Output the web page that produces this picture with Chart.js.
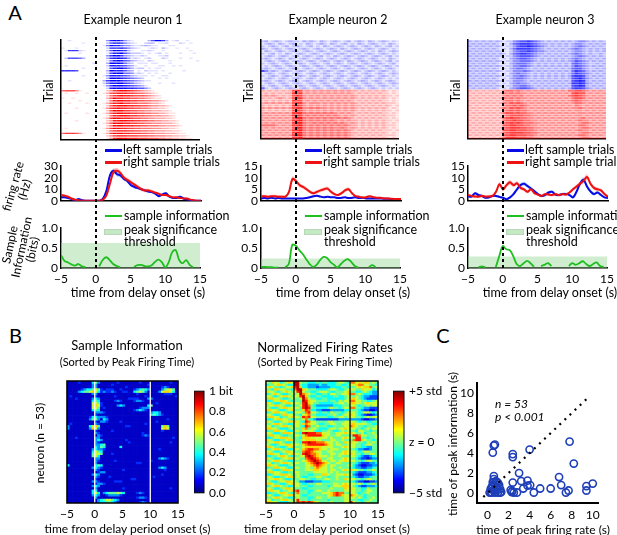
<!DOCTYPE html>
<html>
<head>
<meta charset="utf-8">
<script src="https://cdn.jsdelivr.net/npm/chart.js@4.4.1/dist/chart.umd.min.js"></script>
<style>
  body { margin: 0; background: #fff; }
  #fig { position: relative; width: 617px; height: 535px; overflow: hidden; font-family: Lato, "DejaVu Sans", sans-serif; color: #000; }
  .box { position: absolute; }
  .t { position: absolute; white-space: pre; font-size: 12px; line-height: 12px; text-align: center; }
  .sw { position: absolute; }
</style>
</head>
<body>
<div id="fig"></div>
<script>
// ---- data ----
const timeAxis = [-5,-4.5,-4,-3.5,-3,-2.5,-2,-1.5,-1,-0.5,0,0.5,1,1.5,2,2.5,3,3.5,4,4.5,5,5.5,6,6.5,7,7.5,8,8.5,9,9.5,10,10.5,11,11.5,12,12.5,13,13.5,14,14.5,15];
const timeTicks = [-5, 0, 5, 10, 15];
const frTicks1 = [0, 10, 20, 30];
const frTicks23 = [0, 5, 10, 15];
const infoTicks = [0, 0.5, 1];

// firing rates (Hz), left / right sample trials, with shaded error
const n1Left  = [3,3,2.5,1.5,0.5,1.5,0.5,0,0,0, 0,0,2,9,22,26,23,22,19,17, 13.5,12,11,10,9,8,7.5,6,4,5.5, 6.5,3.5,2.5,2.5,3.5,2,1,0.5,0,0, 0];
const n1Right = [5,4.5,3.5,2,1,0.5,0,0,0,0, 0,0,1,5,15,25,26,24,20,18, 16,14,12,10,9,9,8,7,6,5, 5,4,3,3,2.5,2,2,1,0.5,0, 0];
const n1SemL  = [1,1,1,0.8,0.6,0.6,0.5,0.3,0.3,0.3, 0.3,0.3,0.8,1.5,2,2,2,2,1.8,1.6, 1.5,1.4,1.3,1.2,1.2,1.2,1.1,1,1,1, 1,0.9,0.8,0.8,0.8,0.7,0.6,0.5,0.3,0.3, 0.3];
const n1SemR  = [1.2,1.2,1.1,0.9,0.7,0.5,0.4,0.3,0.3,0.3, 0.3,0.3,0.6,1.5,2.2,2.4,2.4,2.2,2,1.9, 1.8,1.7,1.6,1.5,1.5,1.4,1.4,1.3,1.2,1.1, 1.1,1,0.9,0.9,0.8,0.7,0.7,0.5,0.4,0.3, 0.3];

const n2Left  = [1,1.2,1,1.3,1,1.2,1,1,1,1, 1,1,1,1.2,1.5,2,2.2,1.8,1.5,1.8, 1.5,1.5,1.2,1.3,1.5,1.2,1.3,1.5,1.2,1.3, 1,1,1,1,1,0.9,0.9,0.8,0.8,0.8, 0.8];
const n2Right = [2,2,1.8,2,2,1.8,1.8,1.8,3.9,9.5, 8.6,6.8,6,5,3.9,3.3,3.9,4.5,5,5.3, 3.9,2.9,2.5,3.3,4.5,5,3.3,2,1.8,1.4, 1.5,2,1.6,1.3,1.3,1.1,1,0.9,0.8,0.8, 0.8];
const n2SemL  = [0.3,0.3,0.3,0.3,0.3,0.3,0.3,0.3,0.3,0.3, 0.3,0.3,0.3,0.3,0.4,0.4,0.4,0.4,0.3,0.3, 0.3,0.3,0.3,0.3,0.3,0.3,0.3,0.3,0.3,0.3, 0.3,0.3,0.3,0.3,0.3,0.3,0.3,0.3,0.3,0.3, 0.3];
const n2SemR  = [0.6,0.6,0.6,0.6,0.6,0.6,0.6,0.6,0.8,1.1, 1,0.9,0.8,0.8,0.7,0.7,0.7,0.8,0.8,0.8, 0.7,0.6,0.6,0.7,0.8,0.8,0.7,0.6,0.5,0.5, 0.5,0.5,0.5,0.4,0.4,0.4,0.4,0.4,0.4,0.4, 0.4];

const n3Left  = [2,1.8,3.3,2.5,2.1,1.3,1.5,2.1,2.1,1.7, 1.3,0.7,1.5,2.9,5,6.8,7.4,6.4,5.3,4.1, 2.9,2.1,2.5,3.6,3.9,2.7,2.5,2.9,2.9,2.5, 1.5,3.9,7.4,9.1,6.2,4.1,2.9,3.6,2.5,1.5, 1.2];
const n3Right = [2.5,2.1,1.9,1.8,2.1,1.8,1.9,2.1,3.9,7.2, 5,6.8,8,6.8,7.6,5.6,5,3.9,5,3.3, 2.7,2.1,2.9,2.7,2.5,2.9,2.5,2.9,2.7,3.6, 5,6.2,7.4,8.6,10.3,7.4,5.6,5,4.5,2.9, 1.8];
const n3SemL  = [0.6,0.6,0.6,0.6,0.6,0.5,0.5,0.5,0.5,0.5, 0.5,0.5,0.6,0.7,0.8,0.9,0.9,0.9,0.8,0.7, 0.6,0.6,0.6,0.6,0.6,0.6,0.6,0.6,0.6,0.6, 0.6,0.8,1,1.1,1,0.8,0.7,0.7,0.6,0.5, 0.5];
const n3SemR  = [0.6,0.6,0.6,0.6,0.6,0.6,0.6,0.6,0.8,1, 0.9,0.9,1,0.9,0.9,0.8,0.8,0.7,0.8,0.7, 0.6,0.6,0.6,0.6,0.6,0.6,0.6,0.6,0.6,0.7, 0.8,0.9,1,1.1,1.2,1,0.9,0.8,0.8,0.7, 0.6];

// sample information (bits), gaps where the curve is missing
const n1Info = [0.32,0.18,0.14,0.09,0.06,0.1,0.04,0.02,null,null, null,0.04,0.2,0.27,0.2,0.1,0.05,0.02,null,null, null,0.03,0.07,0.08,0.05,0.04,0.06,0.15,0.21,0.15, 0.02,0.15,0.4,0.45,0.2,0.12,0.2,0.08,0.02,null, null];
const n2Info = [0.03,0.03,0.02,0.02,0.01,0.01,null,0.02,0.1,0.58, 0.56,0.45,0.35,0.22,0.1,0.03,0.08,0.2,0.28,0.25, 0.15,0.08,0.02,0.1,0.18,0.22,0.15,0.05,0.01,null, null,0.02,0.07,0.02,null,null,null,null,null,null, null];
const n3Info = [null,null,null,0.02,0.04,0.02,null,null,0.02,0.3, 0.55,0.47,0.45,0.3,0.1,0.05,0.12,0.18,0.12,0.03, null,0.05,0.08,0.12,0.05,null,null,null,null,0.05, 0.12,0.08,0.12,0.17,0.1,0.05,0.1,0.14,0.05,0.03, null];
const thresholds = [0.63, 0.24, 0.29];

// spike rasters: one string per trial row, one digit (0-9 density) per 0.5 s bin
const n1RasterLeft = [
  "0010000000000489974210000369973012001000",
  "0000001000000379985321002330112000210100",
  "0000000000001598864421123211000110000000",
  "1000100000000288897532100121031001001000",
  "0177721000000269987310011210010000000100",
  "0000010000000158896422210101201000100010",
  "0000000000000479974321121000112000000000",
  "0266653000000378987412101200021000100100",
  "0000000000000158986532110210000100000001",
  "0000000001000399985320111011000100000000",
  "0100000000000288876431001000110010100000",
  "0000001000000168997531220101100000000000",
  "7777600000000398886430102111010000010000",
  "0000000000000279995541210101000100000000",
  "0000001000001488876532111010011000000000",
  "0000000000000399987654320000101000000000",
  "0010000000003799987654321100000000000000",
  "0000000000002588997653210000100010000000",
  "0000000000001479998765431000000000000000",
  "0000000000000289999887664200000000000000"];
const n1RasterRight = [
  "5666410000000247899876543210000000000000",
  "0100100100001367888776554321000000000000",
  "0000000000000257898876665432100000000000",
  "1001000000000369887766554321100000000000",
  "0000010000000158998877665544321000000000",
  "0010000100001368897766555433210000000000",
  "0000000000000268999887766544332100000000",
  "0000100000001478988776655433221000000000",
  "0000000000000269997766554433322100000000",
  "0100000100001368998877665544332110000000",
  "0000000000000158899877665544433210000000",
  "0000000000001379988876655443332210000000",
  "0000100000000248899887766554433221000000",
  "0000000000001369998877665544433321000000",
  "0000000000000259998887766555443332100000",
  "0100000000001479988776655544433221000000",
  "0000000000000268999887766554443322100000",
  "5777641000001379998877766554443332110000",
  "0000000000000258999888777665554433221000",
  "0000000000000148999888777666554433221100"];
const n2RasterLeft = [
  "2312321232213232132123212312321321232121",
  "1232132123121321232132123121321232121321",
  "2123212312321231213212321232123213212312",
  "3212321232123212321232132123212321232121",
  "1321232123212321232123212321232121321232",
  "2123121321232123212321232123212321232121",
  "1232123212312321231213212321232123212312",
  "2321232132123212321232123212321232121321",
  "1232123212321232123212321321232123212312",
  "2123212321232123212312321232123212321231",
  "1212321232123212321232123212321232123212",
  "2321232123212321232123212321232123212321",
  "6423212321232123212321232123212321232121",
  "1232123212321232123212321232123212321232",
  "2123212321232123212321232123212321232121",
  "1232123212321232123212321232123212321212",
  "2321232123212321232123212321232123212321",
  "1232123212321232123212321232123212321232",
  "2123212321232123212321232123212321232121",
  "5212321232123212321232123212321232121212"];
const n2RasterRight = [
  "3232323236763434343434343433232323232121",
  "2323232337673434343434343432323232322121",
  "3434323236764343434343434343232323232212",
  "3232343236774343434343434343232323232121",
  "2323232327663434343434343432323232322121",
  "3434343436774344434343434343232323232221",
  "3232323237764343434343434343323232323212",
  "4343434346774454544343434343232323232121",
  "3232323236764343434343434343232323232212",
  "3434343437775454545454343432323232322121",
  "4343434347774545454545434343232323232221",
  "3434343436885454545454545432323232322121",
  "4343434347785454545454343433232323232212",
  "3434343437885445454545454343232323232121",
  "5555434347785454545454545433232323232221",
  "3434343436885454545454454343232323232121",
  "4343434347785454545454545432323232322212",
  "3434343437885454545454545433232323232121",
  "4343434347885454545454545432323232322221",
  "3434343437785454545454545433232323232121"];
const n3RasterLeft = [
  "3232323232122456676543232323232344323232",
  "2323232321213567776543323232323443232323",
  "3232323232122467787654323232323454323232",
  "2323232321213577776543232323234543232323",
  "3232323232112456676544323232323443232323",
  "2323232323213567765433232323234543232232",
  "3232323232122456665432323232323454323232",
  "2323232321213456654323232323234543232323",
  "3232323232122445554323232323234654323232",
  "2323232321213455543232323232325654322323",
  "3232323232122445543232323232324654323232",
  "2323232321213455432323232323235664322323",
  "3232323232122444543232323232325765323232",
  "2323232321213454432323232323235765432323",
  "3232323232122445432323232323236776323232",
  "2323232321213455432323232323236786432323",
  "3232323232122444323232323232326787323232",
  "2323232321213454432323232323237787432323",
  "3232323232122445543232323232326787323232",
  "2323232321213456654323232323236776432323"];
const n3RasterRight = [
  "3232323232455454343434343434355665434343",
  "2323232323545454434343434343436766343434",
  "3232323232454545343434343434356765434343",
  "2323232323545454434343434343435665343434",
  "3232323232455454343434343434345654434343",
  "2323232323546565434343434343434554343434",
  "3232323232455656543434343434343543434343",
  "2323232323546565434343434343434454343434",
  "3232323232456565543434343434343443434343",
  "2323232323566565544343434343434344343434",
  "3232323232456666554434343434343443434343",
  "2323232323567665544343434343434345343434",
  "3232323232566766554434343434343454434343",
  "2323232323567676555443434343434345543434",
  "3232323232667766554434343434343455434343",
  "2323232323567776655443434343434345543434",
  "3232323232667766655434343434343454434343",
  "2323232323567777665543434343434345543434",
  "3232323232667766655434343434343455434343",
  "2323232323577766655443434343434345543434"];

// B: sample information per neuron (digit = tenths of a bit), 53 neurons x 0.5 s bins
const infoMap = [
  "1111211114531111112111111121111111111211",
  "1111111113311111211111111111121111111111",
  "1111111113311111111112111111111111232111",
  "1111123445652122211211112345431111356651",
  "1111345567642322321122114565311113677641",
  "1111111113311111111111111211111111122211",
  "1211111111211111121111111111211111111112",
  "1112111113431111111111222211133111111111",
  "1111111114541111123211112332111111111111",
  "1111111116652111111111111111111121111111",
  "1111111116762111113431111111145111111111",
  "1111111116651211111111111123331111111111",
  "1111111114541111111111112343211111111111",
  "1111111111333211111111111111113443111111",
  "1111111111211111111111111111114543211111",
  "1111111124433321111111111111111111111111",
  "1111111135531431111111111111111111112111",
  "1111111111213321111211111111111121111111",
  "1211111111321111111111111111211111111111",
  "3111111146751111111112211111111111575111",
  "3111111137631111111111111111111111676111",
  "1111111111211111211111111111111111211111",
  "1111111111321111111111111112111111111111",
  "1111111111132111111111111112321111111111",
  "1112111111331111111111111111111111111121",
  "1111111111343111111112111111111111111111",
  "1111111111321111111111211111111111111211",
  "1111111111334511111111111111111111111111",
  "1111111111435411111411111111111111111111",
  "1111111113433211111111111111111112111111",
  "1111111114654111111111111111111111111111",
  "1111111115665111211111111111111111111111",
  "1111111115641111111111111111111111111111",
  "1111111111331111111111111111111113432111",
  "1111111111321111121111111111112111111111",
  "1111111111311111111111111221111111111111",
  "4111111111454111111111111111111111111111",
  "1111111113432111111111111111111113431111",
  "1111111111321111111121111111111111121111",
  "1111111111123311111111111111111111111111",
  "1111111113431111111111111111111111211111",
  "1111111111321112111111111111111211111111",
  "1111111111211111111111122111111111111111",
  "1111111113321111122211111111111111111111",
  "1111111111233211111111111111111111111111",
  "1111111113431111111111111111111111111111",
  "1111111111311111111121111111111111111211",
  "1111111114411111111111111111111111111111",
  "1111111114641345556541111232111111111111",
  "1111111113431123333211111111111111111111",
  "1111111111311111111111111233211111111111",
  "1111111111134566543111111111111111111111",
  "1111111111134455432111111123211111111111"];

// B: normalized firing rate per neuron (digit 0-9 spans -5..+5 std)
const rateMap = [
  "5465534565995443334344333455437756566454",
  "3445665433994332222322333443345567755443",
  "5654434556896332221222233334434456566745",
  "4436655443799654443333455433455544655534",
  "6554345654589544334555433444564433454322",
  "3456543345459765443344355445567745433322",
  "5543456654558964334433334433454454322111",
  "4665543345445975443344333333456654321111",
  "3345566543444986554444344354557755443345",
  "6543345665554896544333334455456655456555",
  "4556654334445897432222223334445543445455",
  "5433456655554898443333454434557744322111",
  "6655433456444687332211122222334443211001",
  "3456655433555478554344354443455543455434",
  "5543346655443567443333445434556543210012",
  "4665534456554878554444334455455544345455",
  "3345665543444574321111111122222222100112",
  "6543345566654387554444554444555543443344",
  "4456654433554676554334455445556655554433",
  "5534456654554387445444334444557654434445",
  "6655433345444674554333455455655544345455",
  "3446655433554555543344543345454435544344",
  "5543346665443898887755544555656544534454",
  "4665543344554578888865544554444887554445",
  "3345566654443666555555454445655488443445",
  "6543344566444566665544455445444788654434",
  "4556654334443889887776554544656554435454",
  "5433455665554678888887654554455544345544",
  "6654433456444566666655554445655544332244",
  "3456654433554678877655455544454432211244",
  "5543345665444788765544554445655543455444",
  "4665534456554898776544455455656544344554",
  "3344566543445589876555454454445543211234",
  "6543345566554478987644554445654432110122",
  "4456654433444567898755455455655544345544",
  "5534456654554456789876544554444432111223",
  "6655433345444455678765455444455321001122",
  "3446655433554455467655454454444322112234",
  "5543346665444455566555455445656554434454",
  "4665543344554444455555454544444321112234",
  "3345566654454443344466544555655210011123",
  "6543344566454334445544344544444321122344",
  "4556654334445544334445544544655544345544",
  "5433455665542211122233344444444321100112",
  "6654433456554334445544445545655545434454",
  "3456654433554443344444345556665432112223",
  "5543345665444334444444454444656544335444",
  "4665534456784443345544544444555544345544",
  "3344566543474443444455567877445543445444",
  "6543345566554334444444567876557654434444",
  "4456654433454443345544544444555545434454",
  "5534456654584443444444344444554443344544",
  "6655433345487878765444454444558544345444"];

// C: time of peak firing rate vs time of peak information (s), 53 neurons
const peakRateTime = [0.5,0.6,0.7,2.4,2.4,4.0,7.8,8.2,3.0,0.6, 0.6,0.9,2.4,3.2,3.8,4.05,3.4,5.0,6.0,6.8, 7.0,7.45,7.7,9.4,9.4,10.0,4.4,2.2,2.3,2.5, 2.8,3.8,0.2,0.3,0.4,0.5,0.6,0.7,0.8,0.9, 1.0,1.1,1.2,0.5,0.8,1.0,0.3,1.2,0.7,0.4, 2.35,1.3,0.9];
const peakInfoTime = [4.05,4.75,4.85,3.9,3.6,4.35,5.15,2.95,2.0,1.7, 1.4,1.1,1.05,1.2,1.25,0.8,0.45,0.45,0.45,1.6, 0.8,0.05,0.25,0.7,0.25,0.95,0.05,0.3,0.1,0.05, 0.05,0.75,0.05,0.4,0.05,0.8,0.3,0.05,0.6,0.3, 0.05,0.8,0.05,1.1,1.2,1.0,0.1,0.4,1.0,0.6, 0.2,0.1,0.5];
const unityLine = [-0.4, 9.5];
const scatterTicks = [0, 2, 4, 6, 8, 10];
const infoBarTicks = [0, 0.2, 0.4, 0.6, 0.8, 1];
const rateBarTicks = [-5, 0, 5];

// ---- drawing ----
Chart.defaults.font.family = 'Lato, "DejaVu Sans", sans-serif';
Chart.defaults.font.size = 12;
Chart.defaults.color = '#000';

const fig = document.getElementById('fig');
const colLeft = [61, 261, 468];
const PW = 140;
const rasterLineWidth = [1.4, 2.1, 2.1];

function jet(t) {
  t = Math.max(0, Math.min(1, t));
  const c = v => Math.round(255 * Math.max(0, Math.min(1, 1.5 - Math.abs(4 * t - v))));
  return `rgb(${c(3)},${c(2)},${c(1)})`;
}

const framePlugin = {
  id: 'frame',
  afterDatasetsDraw(chart, args, opts) {
    if (!opts.on) return;
    const a = chart.chartArea, c = chart.ctx;
    c.save();
    c.strokeStyle = '#000';
    c.lineWidth = opts.width || 1;
    c.strokeRect(a.left, a.top, a.right - a.left, a.bottom - a.top);
    c.restore();
  }
};

function mk(rect, pad, yRight, config) {
  const w = rect.w + pad.l + pad.r, h = rect.h + pad.t + pad.b;
  const div = document.createElement('div');
  div.className = 'box';
  div.style.cssText = `left:${rect.x - pad.l}px;top:${rect.y - pad.t}px;width:${w}px;height:${h}px`;
  const cv = document.createElement('canvas');
  cv.width = w; cv.height = h;
  div.appendChild(cv);
  fig.appendChild(div);
  const o = config.options;
  o.responsive = false;
  o.animation = false;
  o.events = [];
  o.layout = { padding: { top: pad.t, bottom: 0, left: yRight ? pad.l : 0, right: yRight ? 0 : pad.r } };
  o.plugins = Object.assign({ legend: { display: false }, tooltip: { enabled: false }, frame: { on: false } }, o.plugins || {});
  o.scales.x.afterFit = s => { s.height = pad.b; };
  o.scales.y.afterFit = s => { s.width = yRight ? pad.r : pad.l; };
  config.plugins = [framePlugin];
  return new Chart(cv, config);
}

function axis(min, max, extra) {
  return Object.assign({
    type: 'linear', min, max,
    grid: { display: false, drawTicks: false },
    border: { display: false },
    ticks: { display: false }
  }, extra || {});
}
const blackBorder = w => ({ display: true, color: '#000', width: w });
const fixedTicks = arr => s => { s.ticks = arr.map(v => ({ value: v })); };
const shownTicks = (extra) => Object.assign({ display: true, autoSkip: false, maxRotation: 0 }, extra);
const minus = v => (v < 0 ? '\u2212' + Math.abs(v) : String(v));
const pts = (xs, ys) => xs.map((x, i) => ({ x, y: ys[i] }));
const binCenter = k => (timeAxis[k] + timeAxis[k + 1]) / 2;

function txt(s, x, y, css, anchor, rot) {
  const d = document.createElement('div');
  d.className = 't';
  d.textContent = s;
  d.style.left = x + 'px';
  d.style.top = y + 'px';
  if (css) d.style.cssText += css;
  const tx = anchor === 'l' ? '0' : '-50%';
  d.style.transform = `translate(${tx},-50%)` + (rot ? ` rotate(${rot}deg)` : '');
  if (anchor === 'l') d.style.textAlign = 'left';
  fig.appendChild(d);
}
function swatch(x, y, w, h, css) {
  const d = document.createElement('div');
  d.className = 'sw';
  d.style.cssText = `left:${x}px;top:${y}px;width:${w}px;height:${h}px;` + css;
  fig.appendChild(d);
}

// ----- panel A -----
const rasters = [[n1RasterLeft, n1RasterRight], [n2RasterLeft, n2RasterRight], [n3RasterLeft, n3RasterRight]];
const rates = [[n1Left, n1Right, n1SemL, n1SemR], [n2Left, n2Right, n2SemL, n2SemR], [n3Left, n3Right, n3SemL, n3SemR]];
const infos = [n1Info, n2Info, n3Info];

function rasterSet(rows, offset, rgb, lw) {
  const data = [], colors = [];
  rows.forEach((row, r) => {
    for (let k = 0; k < Math.min(40, row.length); k++) {
      const d = +row[k];
      if (!d) continue;
      data.push({ x: binCenter(k), y: offset + r + 0.5 });
      colors.push(`rgba(${rgb},${(d / 9).toFixed(2)})`);
    }
  });
  return {
    data, pointStyle: 'line', pointRadius: 1.8, pointBorderWidth: lw,
    pointBorderColor: colors, pointBackgroundColor: colors
  };
}

rasters.forEach((pair, i) => {
  const L = colLeft[i];
  mk({ x: L, y: 36, w: PW, h: 105 }, { t: 2, r: 4, b: 4, l: 6 }, false, {
    type: 'scatter',
    data: { datasets: [rasterSet(pair[0], 0, '0,0,255', rasterLineWidth[i]), rasterSet(pair[1], pair[0].length, '255,0,0', rasterLineWidth[i])] },
    options: {
      scales: {
        x: axis(-5, 15, { border: blackBorder(1.5) }),
        y: axis(0, pair[0].length + pair[1].length, { reverse: true, border: blackBorder(1.5) })
      }
    }
  });
});

function bandPair(mean, sem, color, order) {
  return [
    { data: pts(timeAxis, mean.map((v, k) => v + sem[k])), fill: '+1', backgroundColor: color, borderWidth: 0, pointRadius: 0, tension: 0.35, order },
    { data: pts(timeAxis, mean.map((v, k) => Math.max(0, v - sem[k]))), fill: false, borderWidth: 0, pointRadius: 0, tension: 0.35, order }
  ];
}

rates.forEach((r, i) => {
  const L = colLeft[i];
  const ticks = i === 0 ? frTicks1 : frTicks23;
  mk({ x: L, y: 164, w: PW, h: 43.5 }, { t: 8, r: 4, b: 4, l: 26 }, false, {
    type: 'line',
    data: {
      datasets: [
        ...bandPair(r[0], r[2], 'rgba(95,160,255,0.45)', 5),
        ...bandPair(r[1], r[3], 'rgba(255,105,105,0.42)', 4),
        { data: pts(timeAxis, r[0]), borderColor: '#0a0ae6', borderWidth: 2, pointRadius: 0, tension: 0.35, fill: false, order: 2 },
        { data: pts(timeAxis, r[1]), borderColor: '#ee1111', borderWidth: 2, pointRadius: 0, tension: 0.35, fill: false, order: 1 }
      ]
    },
    options: {
      scales: {
        x: axis(-5, 15, { border: blackBorder(1.5) }),
        y: axis(0, ticks[ticks.length - 1], {
          border: blackBorder(1.5),
          afterBuildTicks: fixedTicks(ticks),
          ticks: shownTicks({ padding: 3 })
        })
      }
    }
  });
});

infos.forEach((inf, i) => {
  const L = colLeft[i];
  mk({ x: L, y: 225, w: PW, h: 43 }, { t: 7, r: 10, b: 20, l: 26 }, false, {
    type: 'line',
    data: {
      datasets: [
        { data: pts(timeAxis, inf), borderColor: '#1fbf1f', borderWidth: 1.8, pointRadius: 0, tension: 0.35, spanGaps: false, fill: false, order: 0 },
        { data: [{ x: -5, y: thresholds[i] }, { x: 15, y: thresholds[i] }], fill: 'origin', backgroundColor: 'rgba(150,215,150,0.45)', borderWidth: 0, pointRadius: 0, order: 1 }
      ]
    },
    options: {
      scales: {
        x: axis(-5, 15, {
          border: blackBorder(1.5),
          afterBuildTicks: fixedTicks(timeTicks),
          ticks: shownTicks({ padding: 4, callback: minus })
        }),
        y: axis(0, 1, {
          border: blackBorder(1.5),
          afterBuildTicks: fixedTicks(infoTicks),
          ticks: shownTicks({ padding: 3 })
        })
      }
    }
  });
});

// ----- panel B heatmaps -----
function heatSets(rows, colorOf) {
  return rows.map((row, r) => {
    const cells = Array.from(row.slice(0, 40));
    return {
      type: 'bar',
      data: cells.map((ch, k) => ({ x: binCenter(k), y: [r, r + 1] })),
      backgroundColor: cells.map(ch => colorOf(+ch)),
      barPercentage: 1, categoryPercentage: 1, borderWidth: 0, grouped: false, order: 1
    };
  });
}
function vline(x, top, color) {
  return { type: 'line', data: [{ x, y: 0 }, { x, y: top }], borderColor: color, borderWidth: 1.3, pointRadius: 0, fill: false, order: -1 };
}
function heatChart(rect, rows, colorOf, lineColor) {
  mk(rect, { t: 2, r: 3, b: 20, l: 4 }, false, {
    type: 'bar',
    data: { datasets: [...heatSets(rows, colorOf), vline(0, rows.length, lineColor), vline(10, rows.length, lineColor)] },
    options: {
      plugins: { frame: { on: true, width: 1.5 } },
      scales: {
        x: axis(-5, 15, {
          offset: false,
          afterBuildTicks: fixedTicks(timeTicks),
          ticks: shownTicks({ padding: 4, callback: minus })
        }),
        y: axis(0, rows.length, { reverse: true })
      }
    }
  });
}
heatChart({ x: 60, y: 380.5, w: 126, h: 122.5 }, infoMap, d => jet((d - 0.3) / 10), '#ffffff');
heatChart({ x: 258.5, y: 380.5, w: 127.5, h: 122.5 }, rateMap, d => jet(0.1 + d * 0.094), '#000000');

function colorBar(rect, range, ticks, fmt) {
  mk(rect, { t: 2, r: 46, b: 2, l: 0 }, true, {
    type: 'bar',
    data: {
      labels: [''],
      datasets: [{
        data: [range],
        barPercentage: 1, categoryPercentage: 1, borderWidth: 0,
        backgroundColor: ctx => {
          const a = ctx.chart.chartArea;
          if (!a) return '#00f';
          const g = ctx.chart.ctx.createLinearGradient(0, a.bottom, 0, a.top);
          for (let s = 0; s <= 16; s++) g.addColorStop(s / 16, jet(s / 16));
          return g;
        }
      }]
    },
    options: {
      plugins: { frame: { on: true, width: 1 } },
      scales: {
        x: { type: 'category', offset: true, grid: { display: false, drawTicks: false }, border: { display: false }, ticks: { display: false } },
        y: axis(range[0], range[1], {
          position: 'right',
          afterBuildTicks: fixedTicks(ticks),
          ticks: shownTicks({ padding: 5, callback: fmt })
        })
      }
    }
  });
}
colorBar({ x: 194, y: 380.5, w: 10, h: 122.5 }, [0, 1], infoBarTicks, v => (v === 1 ? '1 bit' : v.toFixed(1)));
colorBar({ x: 393, y: 380.5, w: 11, h: 122.5 }, [-5, 5], rateBarTicks, v => (v > 0 ? '+5 std' : v < 0 ? '\u22125 std' : 'z = 0'));

// ----- panel C scatter -----
mk({ x: 476.5, y: 377, w: 121.5, h: 126 }, { t: 4, r: 8, b: 20, l: 22 }, false, {
  type: 'scatter',
  data: {
    datasets: [
      { data: pts(peakRateTime, peakInfoTime), pointStyle: 'circle', pointRadius: 3.6, pointBorderWidth: 1.6, pointBorderColor: '#1e3fb8', pointBackgroundColor: 'rgba(0,0,0,0)', order: 1 },
      { type: 'line', data: pts(unityLine, unityLine), borderColor: '#000', borderWidth: 2.2, borderDash: [2, 5], pointRadius: 0, fill: false, order: 0 }
    ]
  },
  options: {
    scales: {
      x: axis(-1, 10.5, { border: blackBorder(2), afterBuildTicks: fixedTicks(scatterTicks), ticks: shownTicks({ padding: 5 }) }),
      y: axis(-1, 11, { border: blackBorder(2), afterBuildTicks: fixedTicks(scatterTicks), ticks: shownTicks({ padding: 3 }) })
    }
  }
});

// dashed delay-onset line through each column of panel A
colLeft.forEach(L => {
  mk({ x: L, y: 36, w: PW, h: 232 }, { t: 0, r: 0, b: 0, l: 0 }, false, {
    type: 'line',
    data: { datasets: [{ data: [{ x: 0, y: 0 }, { x: 0, y: 1 }], borderColor: '#000', borderWidth: 2, borderDash: [3, 3], pointRadius: 0, fill: false }] },
    options: { scales: { x: axis(-5, 15), y: axis(0, 1) } }
  });
});

// ----- text -----
txt('A', 15, 12, 'font-size:20px;line-height:20px;');
txt('B', 15.5, 335, 'font-size:20px;line-height:20px;');
txt('C', 443, 335, 'font-size:20px;line-height:20px;');
const centers = [133, 338, 545];
centers.forEach((cx, i) => {
  const L = colLeft[i];
  txt('Example neuron ' + (i + 1), cx, 20, 'font-size:12.5px;');
  txt('Trial', L - 12, 91, 'font-size:12.5px;', 'c', -90);
  txt('time from delay onset (s)', cx + 5, 293, 'font-size:12.5px;');
  const lx = L + (i === 2 ? 39 : 44);
  swatch(lx, 148.5, 17, 3, 'background:#0a0ae6;');
  txt('left sample trials', lx + 18, 150, 'font-size:12.5px;', 'l');
  swatch(lx, 160.5, 17, 3, 'background:#ee1111;');
  txt('right sample trials', lx + 18, 162, 'font-size:12.5px;', 'l');
  swatch(lx, 215, 17, 2, 'background:#1fbf1f;');
  txt('sample information', lx + 19, 216, 'font-size:12.5px;', 'l');
  swatch(lx - 1, 229, 18, 6, 'background:rgba(150,215,150,0.55);border:1px solid #b8d8b8;box-sizing:border-box;');
  txt('peak significance\nthreshold', lx + 19, 235, 'font-size:12.5px;line-height:11.5px;', 'l');
});
txt('firing rate\n(Hz)', 19, 188, 'font-size:12px;line-height:12px;', 'c', -74);
txt('Sample\nInformation\n(bits)', 21, 247, 'font-size:12px;line-height:11.5px;', 'c', -78);

txt('Sample Information', 127, 345, 'font-size:13px;');
txt('(Sorted by Peak Firing Time)', 127, 362, 'font-size:11px;');
txt('Normalized Firing Rates', 325, 347, 'font-size:13px;');
txt('(Sorted by Peak Firing Time)', 325, 362, 'font-size:11px;');
txt('neuron (n = 53)', 40, 443, 'font-size:12px;', 'c', -90);
txt('time from delay period onset (s)', 127.5, 529, 'font-size:12px;');
txt('time from delay period onset (s)', 327, 529, 'font-size:12px;');
txt('time of peak information (s)', 453, 444, 'font-size:12px;', 'c', -90);
txt('time of peak firing rate (s)', 543, 530, 'font-size:12px;');
txt('n = 53', 495, 404, 'font-size:12px;font-style:italic;', 'l');
txt('p < 0.001', 495, 417, 'font-size:12px;font-style:italic;', 'l');
</script>
</body>
</html>
